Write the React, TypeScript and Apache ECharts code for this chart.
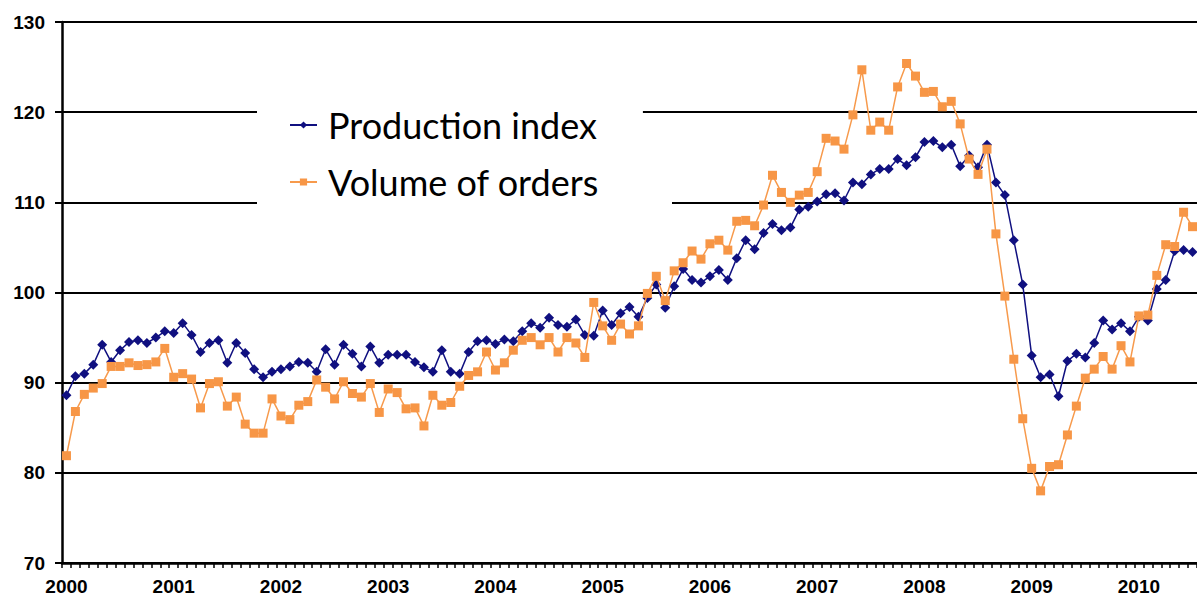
import React, { useEffect, useRef } from "react";
import * as echarts from "echarts";

const YEARS = ["2000", "2001", "2002", "2003", "2004", "2005", "2006", "2007", "2008", "2009", "2010"];
const MONTHS_IN_2010 = 7;

const PRODUCTION_INDEX = [
  88.6, 90.7, 91.0, 92.0, 94.2, 92.3, 93.6, 94.5, 94.7, 94.4, 95.0, 95.7,
  95.5, 96.6, 95.3, 93.4, 94.4, 94.7, 92.2, 94.4, 93.3, 91.5, 90.6, 91.2,
  91.5, 91.8, 92.3, 92.2, 91.2, 93.7, 92.0, 94.2, 93.2, 91.8, 94.0, 92.2,
  93.1, 93.1, 93.1, 92.3, 91.7, 91.2, 93.6, 91.2, 91.0, 93.4, 94.6, 94.7,
  94.3, 94.8, 94.6, 95.7, 96.6, 96.1, 97.2, 96.4, 96.2, 97.0, 95.3, 95.2,
  98.0, 96.4, 97.7, 98.4, 97.3, 99.4, 100.9, 98.3, 100.7, 102.6, 101.4, 101.1,
  101.8, 102.5, 101.4, 103.8, 105.8, 104.8, 106.6, 107.6, 106.9, 107.2, 109.2, 109.5,
  110.1, 110.9, 111.0, 110.2, 112.2, 112.0, 113.1, 113.7, 113.7, 114.8, 114.1, 115.0,
  116.7, 116.8, 116.1, 116.4, 114.0, 115.2, 113.9, 116.4, 112.2, 110.8, 105.8, 100.9,
  93.0, 90.6, 90.9, 88.5, 92.4, 93.2, 92.8, 94.4, 96.9, 95.9, 96.6, 95.7,
  97.3, 96.9, 100.4, 101.4, 104.6, 104.7, 104.5,
];

const VOLUME_OF_ORDERS = [
  81.9, 86.8, 88.7, 89.4, 89.9, 91.8, 91.8, 92.2, 91.9, 92.0, 92.3, 93.8,
  90.6, 91.0, 90.4, 87.2, 89.9, 90.1, 87.4, 88.4, 85.4, 84.4, 84.4, 88.2,
  86.3, 85.9, 87.5, 87.9, 90.3, 89.5, 88.2, 90.1, 88.8, 88.4, 89.9, 86.7,
  89.3, 88.9, 87.1, 87.2, 85.2, 88.6, 87.5, 87.8, 89.6, 90.8, 91.2, 93.4,
  91.4, 92.2, 93.6, 94.7, 95.0, 94.2, 95.0, 93.4, 95.0, 94.4, 92.8, 98.9,
  96.3, 94.7, 96.5, 95.4, 96.3, 99.9, 101.8, 99.1, 102.4, 103.3, 104.6, 103.7,
  105.4, 105.8, 104.7, 107.9, 108.0, 107.4, 109.7, 113.0, 111.1, 110.0, 110.8, 111.1,
  113.4, 117.1, 116.8, 115.9, 119.7, 124.7, 118.0, 118.9, 118.0, 122.8, 125.4, 124.0,
  122.2, 122.3, 120.6, 121.2, 118.7, 114.8, 113.1, 115.9, 106.5, 99.6, 92.6, 86.0,
  80.5, 78.0, 80.7, 80.9, 84.2, 87.4, 90.5, 91.5, 92.9, 91.5, 94.1, 92.3,
  97.4, 97.5, 101.9, 105.3, 105.1, 108.9, 107.3,
];

const SERIES_NAMES = ["Production index", "Volume of orders"];

const MONTH_CATEGORIES: string[] = [];
YEARS.forEach((y, yi) => {
  const n = yi === YEARS.length - 1 ? MONTHS_IN_2010 : 12;
  for (let m = 1; m <= n; m++) MONTH_CATEGORIES.push(`${y}-${String(m).padStart(2, "0")}`);
});

export default function App() {
  const ref = useRef<HTMLDivElement>(null);
  useEffect(() => {
    if (!ref.current) return;
    const chart = echarts.init(ref.current, undefined, { renderer: "svg" });
    const axisFont = {
      color: "#000",
      fontFamily: "Liberation Sans, Arial, sans-serif",
      fontWeight: "bold" as const,
      fontSize: 19,
    };
    chart.setOption({
      animation: false,
      backgroundColor: "#fff",
      grid: { left: 62, right: -3, top: 22, bottom: 37, containLabel: false },
      xAxis: {
        type: "category",
        data: MONTH_CATEGORIES,
        boundaryGap: true,
        axisLine: { lineStyle: { color: "#000", width: 2.5 } },
        axisTick: { show: true, interval: 0, length: 5, lineStyle: { color: "#000", width: 1.5 } },
        axisLabel: {
          ...axisFont,
          interval: 11,
          margin: 14,
          formatter: (v: string) => v.slice(0, 4),
        },
        splitLine: { show: false },
      },
      yAxis: {
        type: "value",
        min: 70,
        max: 130,
        interval: 10,
        axisLine: { show: true, lineStyle: { color: "#000", width: 2.5 } },
        axisTick: { show: true, length: 7, lineStyle: { color: "#000", width: 2 } },
        axisLabel: { ...axisFont, margin: 17 },
        splitLine: { show: true, lineStyle: { color: "#000", width: 2 } },
      },
      legend: {
        orient: "vertical",
        left: 257,
        top: 100,
        padding: [5, 44, 8, 32],
        itemGap: 17,
        itemWidth: 27,
        itemHeight: 9,
        backgroundColor: "#fff",
        textStyle: {
          fontFamily: "Lato, sans-serif",
          fontSize: 36,
          color: "#000",
          lineHeight: 40,
          padding: [0, 0, 0, 6],
        },
        data: SERIES_NAMES,
        z: 5,
      },
      graphic: [
        {
          type: "rect",
          left: 640,
          top: 199,
          shape: { width: 32, height: 8 },
          style: { fill: "#fff" },
          z: 1,
        },
      ],
      series: [
        {
          name: SERIES_NAMES[0],
          type: "line",
          data: PRODUCTION_INDEX,
          symbol: "diamond",
          symbolSize: [10, 10],
          showAllSymbol: true,
          lineStyle: { color: "#101080", width: 1.5 },
          itemStyle: { color: "#101080" },
          z: 3,
        },
        {
          name: SERIES_NAMES[1],
          type: "line",
          data: VOLUME_OF_ORDERS,
          symbol: "rect",
          symbolSize: 9,
          showAllSymbol: true,
          lineStyle: { color: "#F79A4C", width: 1.5 },
          itemStyle: { color: "#F79646" },
          z: 4,
        },
      ],
    });
    return () => chart.dispose();
  }, []);
  return (
    <div
      ref={ref}
      style={{ position: "absolute", left: 0, top: 0, width: 1197, height: 600 }}
    />
  );
}
